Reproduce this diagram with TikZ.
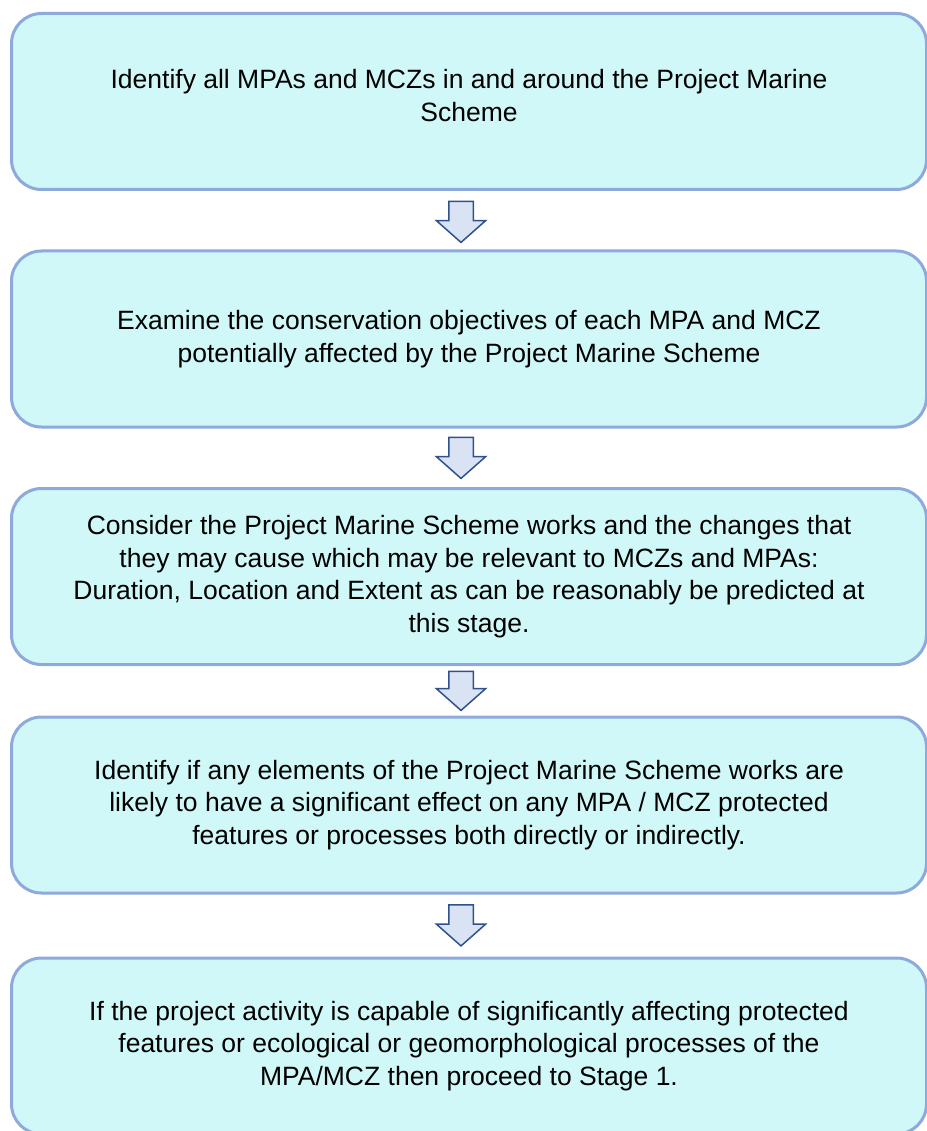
\documentclass[tikz,border=0pt]{standalone}
\usepackage{fontspec}
\setmainfont{Liberation Sans}
\usetikzlibrary{shapes.arrows}
\definecolor{boxfill}{HTML}{D0F8F8}
\definecolor{boxline}{HTML}{8EA9DB}
\definecolor{arrowfill}{HTML}{DAE3F3}
\definecolor{arrowline}{HTML}{2F528F}
\tikzset{
  stage/.style={draw=boxline, fill=boxfill, line width=3pt, rounded corners=30pt,
    minimum width=915pt, minimum height=176pt, align=center, inner sep=0pt,
    font=\fontsize{26.5}{32.5}\selectfont},
  downarrow/.style={single arrow, draw=arrowline, fill=arrowfill, line width=1.5pt,
    shape border rotate=270, minimum height=41pt, inner sep=11.5pt,
    single arrow head extend=12.5pt, single arrow tip angle=97}
}
\begin{document}
\begin{tikzpicture}[x=1pt, y=-1pt]
\useasboundingbox (0,0) rectangle (926,1131);
\node (s1)[stage] at (469, 101.5) {Identify all MPAs and MCZs in and around the Project Marine\\Scheme\\[-20pt]\mbox{}};
\node (s2)[stage] at (469, 339) {Examine the conservation objectives of each MPA and MCZ\\potentially affected by the Project Marine Scheme};
\node (s3)[stage] at (469, 576.5) {Consider the Project Marine Scheme works and the changes that\\they may cause which may be relevant to MCZs and MPAs:\\Duration, Location and Extent as can be reasonably be predicted at\\this stage.};
\node (s4)[stage] at (469, 805) {Identify if any elements of the Project Marine Scheme works are\\likely to have a significant effect on any MPA / MCZ protected\\features or processes both directly or indirectly.};
\node (s5)[stage] at (469, 1046) {If the project activity is capable of significantly affecting protected\\features or ecological or geomorphological processes of the\\MPA/MCZ then proceed to Stage 1.};
\node (a1)[downarrow] at (461, 216.5) {};
\node (a2)[downarrow] at (461, 452.5) {};
\node (a3)[downarrow, minimum height=39pt] at (461, 685.5) {};
\node (a4)[downarrow] at (461, 920) {};
\end{tikzpicture}
\end{document}
